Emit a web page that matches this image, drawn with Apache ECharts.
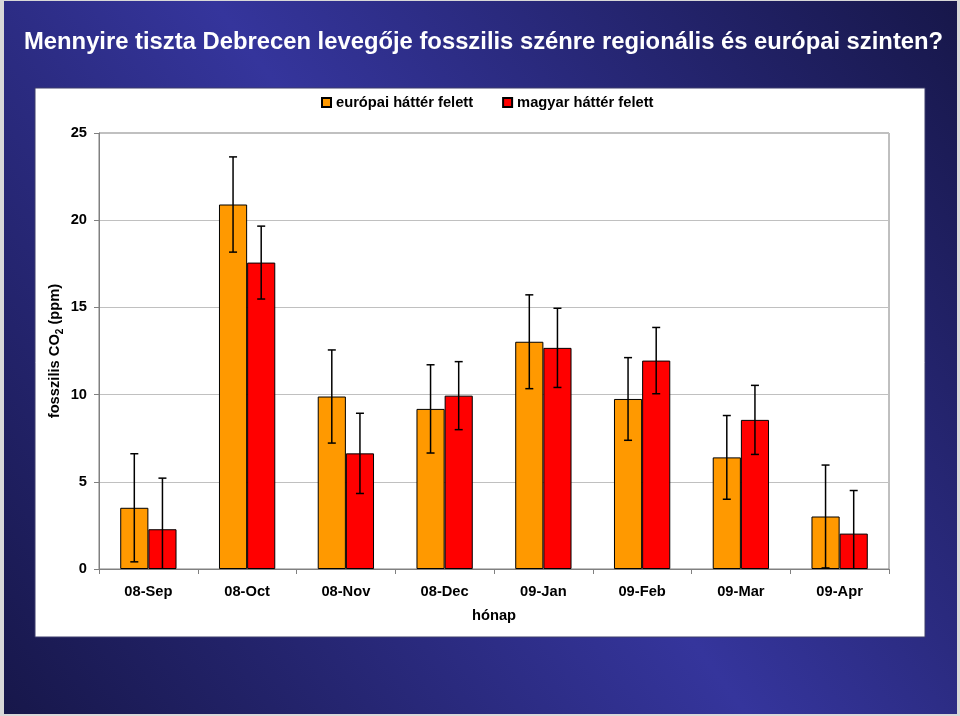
<!DOCTYPE html>
<html><head><meta charset="utf-8">
<script src="https://cdn.jsdelivr.net/npm/echarts@6/dist/echarts.min.js"></script>
<style>html,body{margin:0;padding:0;background:#d8d8d8;} #c{width:960px;height:716px;}</style>
</head><body><div id="c"></div>
<script>
const titleText = 'Mennyire tiszta Debrecen levegője fosszilis szénre regionális és európai szinten?';
const seriesNames = ['európai háttér felett', 'magyar háttér felett'];
const categories = ['08-Sep', '08-Oct', '08-Nov', '08-Dec', '09-Jan', '09-Feb', '09-Mar', '09-Apr'];
const europeanValues = [3.51, 20.90, 9.89, 9.18, 13.03, 9.75, 6.40, 3.01];
const europeanErrors = [3.10, 2.73, 2.67, 2.53, 2.69, 2.37, 2.40, 2.95];
const hungarianValues = [2.28, 17.57, 6.63, 9.94, 12.68, 11.95, 8.55, 2.03];
const hungarianErrors = [2.93, 2.09, 2.30, 1.95, 2.27, 1.90, 1.98, 2.47];
const yMin = 0, yMax = 25, yInterval = 5;
const xAxisName = 'hónap';

const FONT = '"Liberation Sans", Arial, sans-serif';
const CAT_GAP = 0.43;

function errorSeries(name, values, errors, side) {
  return {
    type: 'custom',
    name: name,
    z: 5,
    encode: { x: 0, y: 1 },
    data: values.map((v, i) => [i, v, errors[i]]),
    renderItem: function (params, api) {
      const i = api.value(0), v = api.value(1), e = api.value(2);
      const catW = api.size([1, 0])[0];
      const barW = catW * (1 - CAT_GAP) / 2;
      const c = api.coord([i, v]);
      const x = c[0] + side * barW / 2;
      const hiY = api.coord([i, v + e])[1];
      const lo = v - e;
      const loY = api.coord([i, Math.max(lo, yMin)])[1];
      const st = { stroke: '#000', lineWidth: 1.5 };
      const cap = 4;
      const children = [
        { type: 'line', shape: { x1: x, y1: hiY, x2: x, y2: loY }, style: st },
        { type: 'line', shape: { x1: x - cap, y1: hiY, x2: x + cap, y2: hiY }, style: st }
      ];
      if (lo >= yMin) children.push({ type: 'line', shape: { x1: x - cap, y1: loY, x2: x + cap, y2: loY }, style: st });
      return { type: 'group', children: children };
    }
  };
}

const chart = echarts.init(document.getElementById('c'), null, { renderer: 'canvas' });
chart.setOption({
  animation: false,
  backgroundColor: '#d8d8d8',
  graphic: [
    { type: 'rect', z: -20, shape: { x: 4, y: 1, width: 953, height: 713 },
      style: { fill: new echarts.graphic.LinearGradient(0, 1, 1, 0, [
        { offset: 0, color: '#17174a' }, { offset: 0.5, color: '#35359c' }, { offset: 1, color: '#17174a' }]) } },
    { type: 'rect', z: -10, shape: { x: 35, y: 88, width: 890, height: 549 },
      style: { fill: '#ffffff', stroke: '#3c3c6c', lineWidth: 1 } }
  ],
  title: {
    text: titleText, left: 19, top: 25,
    textStyle: { color: '#ffffff', fontFamily: FONT, fontWeight: 'bold', fontSize: 23.8 }
  },
  legend: {
    data: seriesNames, left: 316, top: 90, itemWidth: 9, itemHeight: 9, itemGap: 29,
    icon: 'rect',
    textStyle: { color: '#000', fontFamily: FONT, fontWeight: 'bold', fontSize: 14.7 }
  },
  grid: { left: 99, right: 71, top: 133, bottom: 147, show: true, borderColor: '#808080', borderWidth: 1 },
  xAxis: {
    type: 'category', data: categories,
    name: xAxisName, nameLocation: 'middle', nameGap: 39,
    nameTextStyle: { color: '#000', fontFamily: FONT, fontWeight: 'bold', fontSize: 14.7 },
    axisLine: { lineStyle: { color: '#808080' } },
    axisTick: { show: true, length: 5, lineStyle: { color: '#808080' } },
    axisLabel: { color: '#000', fontFamily: FONT, fontWeight: 'bold', fontSize: 14.7, margin: 15 }
  },
  yAxis: {
    type: 'value', min: yMin, max: yMax, interval: yInterval,
    name: '{a|fosszilis CO}{s|2}{a| (ppm)}', nameLocation: 'middle', nameGap: 34, nameRotate: 90,
    nameMoveOverlap: false,
    nameTextStyle: {
      rich: {
        a: { color: '#000', fontFamily: FONT, fontWeight: 'bold', fontSize: 14.7, lineHeight: 20, verticalAlign: 'middle' },
        s: { color: '#000', fontFamily: FONT, fontWeight: 'bold', fontSize: 10, lineHeight: 10, verticalAlign: 'bottom' }
      }
    },
    axisLine: { show: true, lineStyle: { color: '#808080' } },
    axisTick: { show: true, length: 5, lineStyle: { color: '#808080' } },
    splitLine: { show: true, lineStyle: { color: '#c0c0c0' } },
    axisLabel: { color: '#000', fontFamily: FONT, fontWeight: 'bold', fontSize: 14.7, margin: 12 }
  },
  series: [
    { type: 'bar', name: seriesNames[0], data: europeanValues, barGap: '0%', barCategoryGap: (CAT_GAP * 100) + '%',
      itemStyle: { color: '#ff9900', borderColor: '#000', borderWidth: 1 } },
    { type: 'bar', name: seriesNames[1], data: hungarianValues, barGap: '0%', barCategoryGap: (CAT_GAP * 100) + '%',
      itemStyle: { color: '#ff0000', borderColor: '#000', borderWidth: 1 } },
    errorSeries(seriesNames[0], europeanValues, europeanErrors, -1),
    errorSeries(seriesNames[1], hungarianValues, hungarianErrors, 1)
  ]
});
</script></body></html>
